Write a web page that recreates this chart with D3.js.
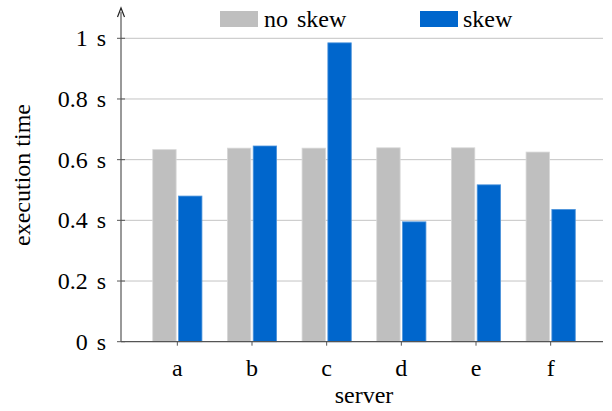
<!DOCTYPE html>
<html><head><meta charset="utf-8">
<script src="https://cdn.jsdelivr.net/npm/d3@7"></script>
<style>
@font-face { font-family: "ChartSerif"; src: local("Liberation Serif"), local("LiberationSerif"), local("Liberation Serif Regular"); }
</style>
</head><body style="margin:0;background:#fff"><svg id="c" width="612" height="411"></svg>
<script>
const categories = ["a","b","c","d","e","f"];
const noSkew = [0.633, 0.638, 0.638, 0.639, 0.639, 0.625];
const skew = [0.48, 0.645, 0.985, 0.395, 0.517, 0.436];
const yTicks = [0, 0.2, 0.4, 0.6, 0.8, 1];
const seriesNames = ["no skew", "skew"];
const colors = ["#bfbfbf", "#0066cc"];
const strokes = ["#d8d8d8", "#4d94db"];
const FONT = "'Liberation Serif', ChartSerif, 'Times New Roman', serif";

const svg = d3.select("#c");
const x0 = 121, x1 = 603;
const x = d3.scaleBand().domain(categories).range([140, 588]);
const y = d3.scaleLinear().domain([0, 1]).range([341.7, 38.3]);
const cx = d => x(d) + x.bandwidth() / 2;
const txt = (sel, size) => sel.attr("font-family", "Liberation Serif").attr("font-size", size)
  .style("font-family", FONT, "important").style("font-size", size + "px", "important");

svg.append("g").selectAll("line").data(yTicks.filter(d => d > 0)).join("line")
  .attr("x1", x0).attr("x2", x1).attr("y1", d => y(d)).attr("y2", d => y(d))
  .attr("stroke", "#c4c4c4").attr("stroke-width", 1);

const bw = 23.4;
[noSkew, skew].forEach((vals, si) => {
  svg.append("g").selectAll("rect").data(categories).join("rect")
    .attr("x", d => cx(d) + (si === 0 ? -1.2 - bw : 1.2))
    .attr("y", (d, i) => y(vals[i]))
    .attr("width", bw)
    .attr("height", (d, i) => y(0) - y(vals[i]))
    .attr("fill", colors[si]).attr("stroke", strokes[si]).attr("stroke-width", 0.8);
});

svg.append("line").attr("x1", x0).attr("x2", x1).attr("y1", y(0)).attr("y2", y(0))
  .attr("stroke", "#555").attr("stroke-width", 1.2);
svg.append("g").selectAll("line").data(categories).join("line")
  .attr("x1", cx).attr("x2", cx)
  .attr("y1", y(0)).attr("y2", y(0) + 4).attr("stroke", "#555").attr("stroke-width", 1);
txt(svg.append("g").selectAll("text").data(categories).join("text")
  .attr("x", cx).attr("y", 376).attr("text-anchor", "middle"), 24).text(d => d);
txt(svg.append("text").attr("x", 364).attr("y", 403).attr("text-anchor", "middle"), 24).text("server");

svg.append("line").attr("x1", x0).attr("x2", x0).attr("y1", y(0)).attr("y2", 12)
  .attr("stroke", "#555").attr("stroke-width", 1.2);
svg.append("path").attr("d", `M${x0 - 3.5},17 L${x0},8 L${x0 + 3.5},17`)
  .attr("fill", "none").attr("stroke", "#222").attr("stroke-width", 1.2);
svg.append("g").selectAll("line").data(yTicks).join("line")
  .attr("x1", x0 - 4).attr("x2", x0 + 4).attr("y1", d => y(d)).attr("y2", d => y(d))
  .attr("stroke", "#555").attr("stroke-width", 1);
txt(svg.append("g").selectAll("text").data(yTicks).join("text")
  .attr("x", 106).attr("y", d => y(d) + 8).attr("text-anchor", "end"), 24)
  .attr("word-spacing", 3).text(d => d + " s");
txt(svg.append("text").attr("transform", "translate(30,175) rotate(-90)")
  .attr("text-anchor", "middle"), 24).text("execution time");

const lg = [[220, 264], [420, 463]];
seriesNames.forEach((n, i) => {
  svg.append("rect").attr("x", lg[i][0]).attr("y", 11).attr("width", 38).attr("height", 16)
    .attr("fill", colors[i]);
  txt(svg.append("text").attr("x", lg[i][1]).attr("y", 27), 24).attr("word-spacing", 3).text(n);
});
</script></body></html>
